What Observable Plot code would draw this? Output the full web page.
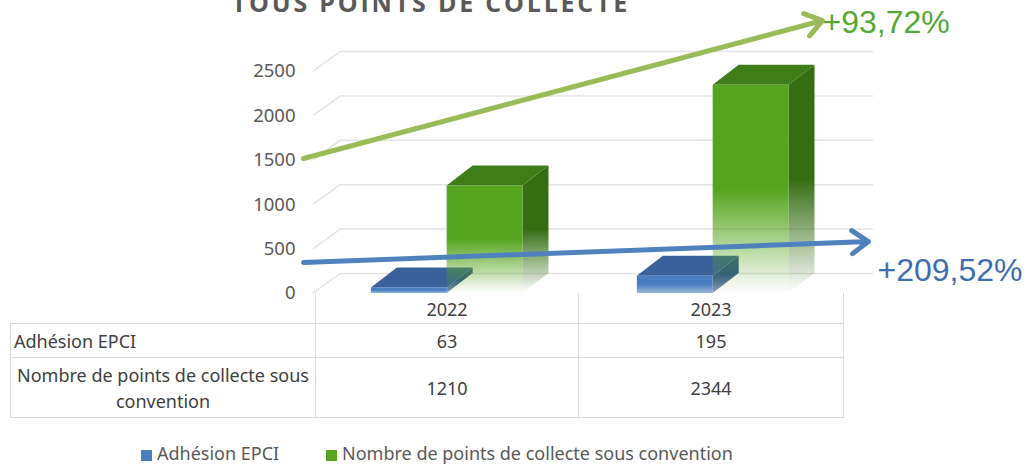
<!DOCTYPE html>
<html><head><meta charset="utf-8">
<script src="https://cdn.jsdelivr.net/npm/d3@7"></script>
<script src="https://cdn.jsdelivr.net/npm/@observablehq/plot@0.6"></script>
<style>
body{margin:0;background:#fff;}
#wrap{position:relative;width:1025px;height:465px;overflow:hidden;font-family:"Noto Sans",sans-serif;background:#fff;}
#chart{position:absolute;left:0;top:0;}
#title{position:absolute;left:0;width:862px;top:-10px;text-align:center;font-family:"Open Sans",sans-serif;font-weight:bold;font-size:25px;line-height:24px;letter-spacing:2.8px;color:#595959;white-space:nowrap;}
#tbl{position:absolute;left:10px;top:293px;border-collapse:collapse;table-layout:fixed;color:#404040;font-size:18px;}
#tbl td{border:1px solid #d9d9d9;text-align:center;padding:0;line-height:26px;}
#tbl tr.head td{border-top:none;height:29px;vertical-align:bottom;padding-bottom:1px;}
#tbl tr.head td.lab{border-left:none;}
#tbl td.lab{text-align:left;padding-left:3px;}
#tbl td.lab2{text-align:center;padding:0 1px;}
#legend{position:absolute;top:443px;left:0;width:1025px;height:20px;font-size:18px;color:#595959;line-height:20px;}
.li{position:absolute;top:0;white-space:nowrap;}
.sw{display:inline-block;width:11px;height:11px;margin-right:5px;vertical-align:-1px;}
</style></head>
<body><div id="wrap"><div id="chart"></div><div id="title">TOUS POINTS DE COLLECTE</div><table id="tbl"></table><div id="legend"></div></div>
<script>
// ---- data ----
const years = ["2022", "2023"];
const adhesionEPCI = [63, 195];
const pointsCollecte = [1210, 2344];
const seriesNames = ["Adhésion EPCI", "Nombre de points de collecte sous convention"];
const tableLabels = ["Adhésion EPCI", "Nombre de points de collecte sous convention"];
const yTicks = [0, 500, 1000, 1500, 2000, 2500];
const growthLabels = ["+209,52%", "+93,72%"]; // blue (EPCI), green (points)
// annotation arrows in data units (x: category units, y: value units)
const arrowStart = [{x: -0.045, y: 349}, {x: -0.045, y: 1520}];
const arrowEnd = [{x: 2.079, y: 585}, {x: 1.906, y: 3074}];

// ---- styling ----
const DX = 26, DY = -20;
const BAR_OFF = 0.21, BAR_W = 0.285;
const palette = [
  {front: "#4a7ec0", top: "#3a6199", side: "#2f5487", arrow: "#4f81bd", text: "#3f6eb0"},
  {front: "#55a51e", top: "#3f7d18", side: "#346d12", arrow: "#9bbb59", text: "#55a834"}
];

const bars = [];
years.forEach((yr, i) => {
  bars.push({year: yr, i, s: 0, value: adhesionEPCI[i]});
  bars.push({year: yr, i, s: 1, value: pointsCollecte[i]});
});
const arrows = growthLabels.map((lab, k) => ({label: lab, k, x1: arrowStart[k].x, y1: arrowStart[k].y, x2: arrowEnd[k].x, y2: arrowEnd[k].y}));

function bars3d(data) {
  return Plot.rectY(data, {
    x1: d => d.i + BAR_OFF + d.s * BAR_W,
    x2: d => d.i + BAR_OFF + (d.s + 1) * BAR_W,
    y1: 0, y2: d => d.value,
    render(index, scales, values, dims) {
      const {x1: X1, x2: X2, y1: Y1, y2: Y2} = values;
      const g = d3.create("svg:g");
      const defs = g.append("defs");
      palette.forEach((p, s) => {
        for (const [face, col] of [["front", p.front], ["side", p.side]]) {
          const lg = defs.append("linearGradient").attr("id", `g-${face}-${s}`)
            .attr("x1", 0).attr("y1", 0).attr("x2", 0).attr("y2", 1);
          lg.append("stop").attr("offset", "0").attr("stop-color", col).attr("stop-opacity", 1);
          lg.append("stop").attr("offset", "0.5").attr("stop-color", col).attr("stop-opacity", 1);
          lg.append("stop").attr("offset", "1").attr("stop-color", col).attr("stop-opacity", s === 1 ? 0 : 0.55);
        }
      });
      for (const i of index) {
        const d = data[i], p = palette[d.s];
        const l = X1[i], r = X2[i], t = Y2[i], b = Y1[i];
        g.append("polygon").attr("points", [[r, t], [r + DX, t + DY], [r + DX, b + DY], [r, b]].join(" "))
          .attr("fill", `url(#g-side-${d.s})`);
        g.append("polygon").attr("points", [[l, t], [l + DX, t + DY], [r + DX, t + DY], [r, t]].join(" "))
          .attr("fill", p.top);
        g.append("rect").attr("x", l).attr("y", t).attr("width", r - l).attr("height", Math.max(0.5, b - t))
          .attr("fill", `url(#g-front-${d.s})`);
      }
      return g.node();
    }
  });
}

const sideWall = Plot.ruleY(yTicks, {
  y: d => d,
  render(index, scales, values) {
    const g = d3.create("svg:g").attr("stroke", "#e3e3e3").attr("stroke-width", 1.5);
    const x0 = scales.x(0);
    for (const i of index) {
      const y = values.y[i];
      g.append("line").attr("x1", x0 - 2).attr("y1", y).attr("x2", x0 + DX).attr("y2", y + DY);
    }
    return g.node();
  }
});

const chart = Plot.plot({
  width: 1025, height: 300,
  marginTop: 71, marginBottom: 7, marginLeft: 315, marginRight: 178,
  x: {domain: [0, 2], axis: null},
  y: {domain: [0, 2500], axis: null},
  style: {fontFamily: "Noto Sans, sans-serif", background: "transparent", overflow: "visible"},
  marks: [
    Plot.ruleY(yTicks, {y: d => d, x1: 0, x2: 2, dx: DX, dy: DY, stroke: "#e3e3e3", strokeWidth: 1.5}),
    sideWall,
    Plot.axisY({ticks: yTicks, tickSize: 0, tickPadding: 20, fontSize: 18.5, fill: "#595959", tickFormat: d => String(d), label: null}),
    bars3d(bars),
    Plot.arrow(arrows, {x1: "x1", y1: "y1", x2: "x2", y2: "y2", stroke: d => palette[d.k].arrow, strokeWidth: 5, headLength: 6, headAngle: 70}),
    Plot.text(arrows.filter(d => d.k === 1), {x: "x2", y: "y2", text: "label", textAnchor: "start", lineAnchor: "middle", dx: 0, dy: 2, fontSize: 32, fontFamily: "Liberation Sans, Arial, sans-serif", fill: d => palette[d.k].text}),
    Plot.text(arrows.filter(d => d.k === 0), {x: "x2", y: "y2", text: "label", textAnchor: "start", lineAnchor: "middle", dx: 9, dy: 29, fontSize: 32, fontFamily: "Liberation Sans, Arial, sans-serif", fill: d => palette[d.k].text})
  ]
});
document.getElementById("chart").appendChild(chart);

// ---- data table ----
const tbl = d3.select("#tbl");
const cg = tbl.append("colgroup");
[305, 263, 265].forEach(w => cg.append("col").style("width", w + "px"));
const hr = tbl.append("tr").attr("class", "head");
hr.append("td").attr("class", "lab");
years.forEach(y => hr.append("td").text(y));
const r1 = tbl.append("tr").style("height", "34px");
r1.append("td").attr("class", "lab").text(tableLabels[0]);
adhesionEPCI.forEach(v => r1.append("td").text(v));
const r2 = tbl.append("tr").style("height", "60px");
r2.append("td").attr("class", "lab2").text(tableLabels[1]);
pointsCollecte.forEach(v => r2.append("td").text(v));

// ---- legend ----
const lg = d3.select("#legend");
[141, 326].forEach((left, s) => {
  const it = lg.append("div").attr("class", "li").style("left", left + "px");
  it.append("span").attr("class", "sw").style("background", palette[s].front);
  it.append("span").text(seriesNames[s]);
});
</script></body></html>
